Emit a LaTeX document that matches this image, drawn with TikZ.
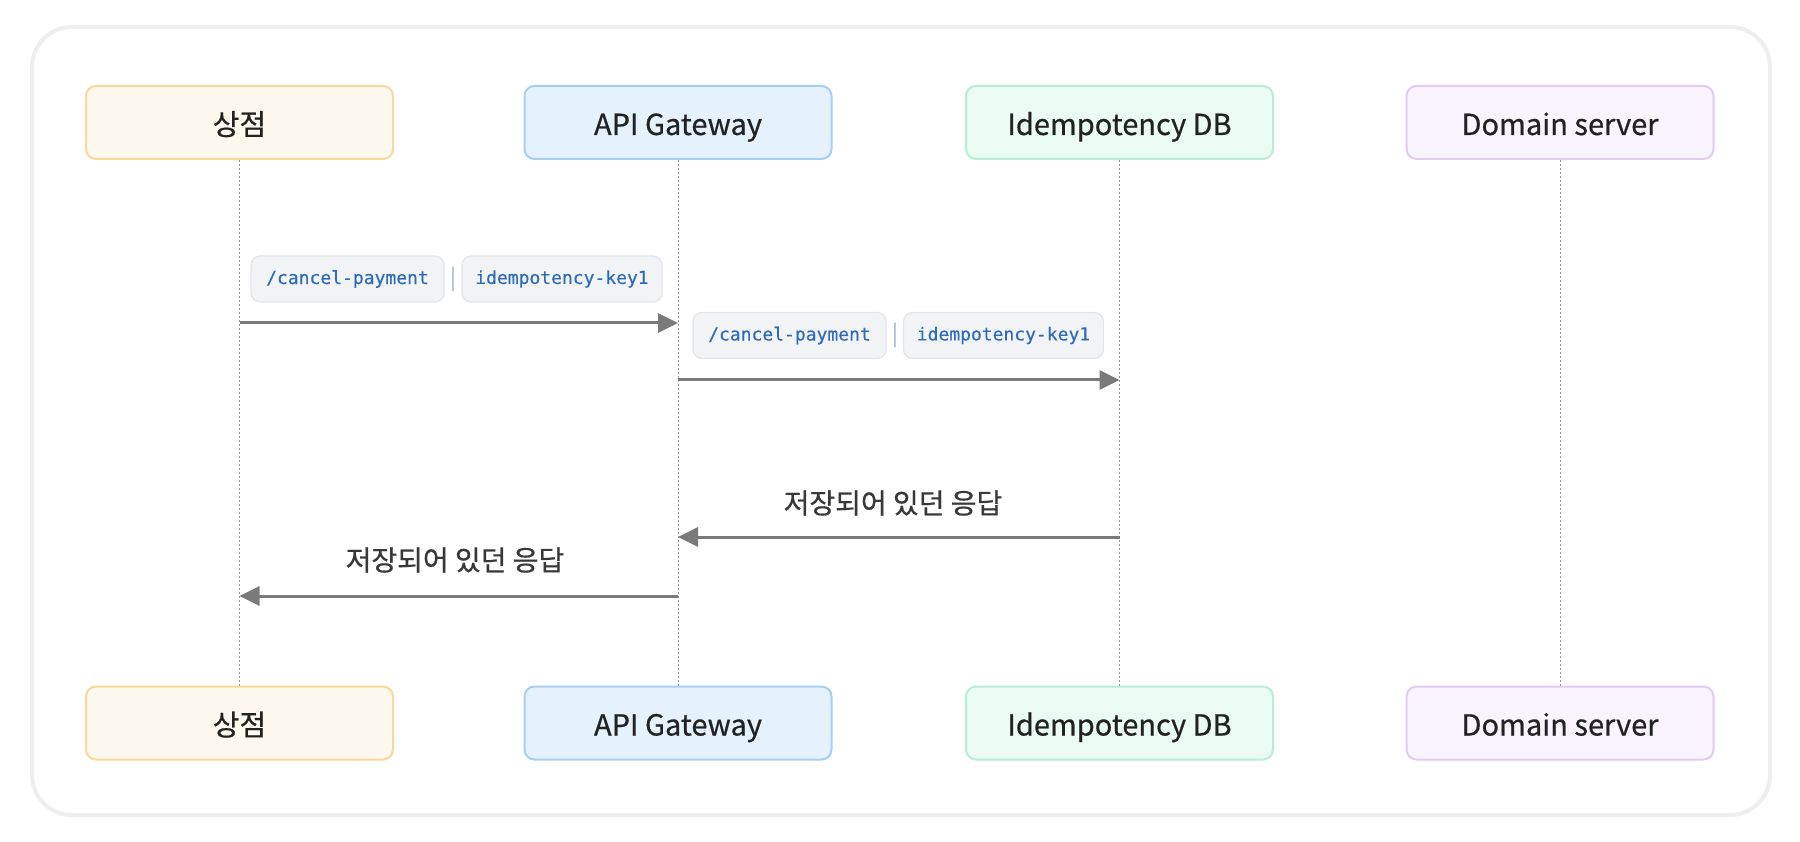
\documentclass[tikz,border=0pt]{standalone}
\usepackage{fontspec}
\setmainfont{Noto Sans CJK KR}
\newfontfamily\boxfont{Noto Sans CJK KR}[FakeBold=0.6]
\newfontfamily\codefont{DejaVu Sans Mono}[FakeBold=0.3]
\usetikzlibrary{arrows.meta,calc}
\definecolor{shopfill}{HTML}{FDF8EE}
\definecolor{shopdraw}{HTML}{FAD89A}
\definecolor{apifill}{HTML}{E5F2FD}
\definecolor{apidraw}{HTML}{A5CFF3}
\definecolor{dbfill}{HTML}{E9FBF3}
\definecolor{dbdraw}{HTML}{B8EDD6}
\definecolor{domfill}{HTML}{F8F3FC}
\definecolor{domdraw}{HTML}{E2CCF0}
\definecolor{codefill}{HTML}{F1F3F5}
\definecolor{codedraw}{HTML}{E2E5E8}
\definecolor{codetext}{HTML}{2E6BB8}
\definecolor{sepcol}{HTML}{9AB1CC}
\definecolor{arrowcol}{HTML}{7A7A7A}
\definecolor{lifecol}{HTML}{9A9A9A}
\definecolor{cardline}{HTML}{EEEEEE}
\definecolor{textcol}{HTML}{222222}
\tikzset{
  actor/.style={rounded corners=10pt, minimum width=307pt, minimum height=73pt,
    line width=2pt, text=textcol, font=\boxfont\fontsize{29}{32}\selectfont, inner sep=0pt,
    text height=25pt, text depth=0pt},
  lifeline/.style={draw=lifecol, line width=1pt, dash pattern=on 2pt off 2pt},
  msg/.style={draw=arrowcol, line width=3pt, -{Triangle[length=20pt,width=19pt]}},
  codebox/.style={fill=codefill, draw=codedraw, line width=1.2pt, rounded corners=9pt,
    minimum height=46pt, inner sep=0pt, text=codetext, font=\codefont\fontsize{18}{20}\selectfont},
  sepmark/.style={text=sepcol, font=\fontsize{22}{24}\selectfont, inner sep=0pt},
  msglabel/.style={text=textcol!90!white, font=\boxfont\fontsize{28}{31}\selectfont, inner sep=0pt}
}
\begin{document}
\begin{tikzpicture}[x=1pt,y=-1pt]
\useasboundingbox (0,0) rectangle (1800,842);
\fill[white] (0,0) rectangle (1800,842);
\draw[draw=cardline, line width=4pt, fill=white, rounded corners=40pt] (32,27) rectangle (1770,815);

% actors top
\node[actor, fill=shopfill, draw=shopdraw] (shopT) at (239.5,122.5) {상점};
\node[actor, fill=apifill, draw=apidraw] (apiT) at (678,122.5) {API Gateway};
\node[actor, fill=dbfill, draw=dbdraw] (dbT) at (1119.5,122.5) {Idempotency DB};
\node[actor, fill=domfill, draw=domdraw] (domT) at (1560,122.5) {Domain server};
% actors bottom
\node[actor, fill=shopfill, draw=shopdraw] (shopB) at (239.5,723) {상점};
\node[actor, fill=apifill, draw=apidraw] (apiB) at (678,723) {API Gateway};
\node[actor, fill=dbfill, draw=dbdraw] (dbB) at (1119.5,723) {Idempotency DB};
\node[actor, fill=domfill, draw=domdraw] (domB) at (1560,723) {Domain server};

% lifelines
\draw[lifeline] (shopT.south) -- (shopB.north);
\draw[lifeline] (apiT.south) -- (apiB.north);
\draw[lifeline] (dbT.south) -- (dbB.north);
\draw[lifeline] (domT.south) -- (domB.north);

% message rows
\coordinate (r1) at (0,323);
\coordinate (r2) at (0,380);
\coordinate (r3) at (0,537);
\coordinate (r4) at (0,596);

\coordinate (m1s) at (shopT.south |- r1);
\coordinate (m1e) at (apiT.south |- r1);
\coordinate (m2s) at (apiT.south |- r2);
\coordinate (m2e) at (dbT.south |- r2);
\coordinate (m3s) at (dbT.south |- r3);
\coordinate (m3e) at (apiT.south |- r3);
\coordinate (m4s) at (apiT.south |- r4);
\coordinate (m4e) at (shopT.south |- r4);

\draw[msg] (m1s) -- (m1e);
\draw[msg] (m2s) -- (m2e);
\draw[msg] (m3s) -- (m3e);
\draw[msg] (m4s) -- (m4e);

% labels message 1
\node[codebox, minimum width=193pt] (c1a) at (347.5,279) {/cancel-payment};
\node[sepmark] (s1) at (453,279) {|};
\node[codebox, minimum width=200pt] (c1b) at (562,279) {idempotency-key1};
% labels message 2
\node[codebox, minimum width=193pt] (c2a) at (789.5,335.5) {/cancel-payment};
\node[sepmark] (s2) at (895,335.5) {|};
\node[codebox, minimum width=200pt] (c2b) at (1003.5,335.5) {idempotency-key1};
% labels messages 3, 4
\node[msglabel] (l3) at (893,503) {저장되어 있던 응답};
\node[msglabel] (l4) at (455,560) {저장되어 있던 응답};
\end{tikzpicture}
\end{document}
